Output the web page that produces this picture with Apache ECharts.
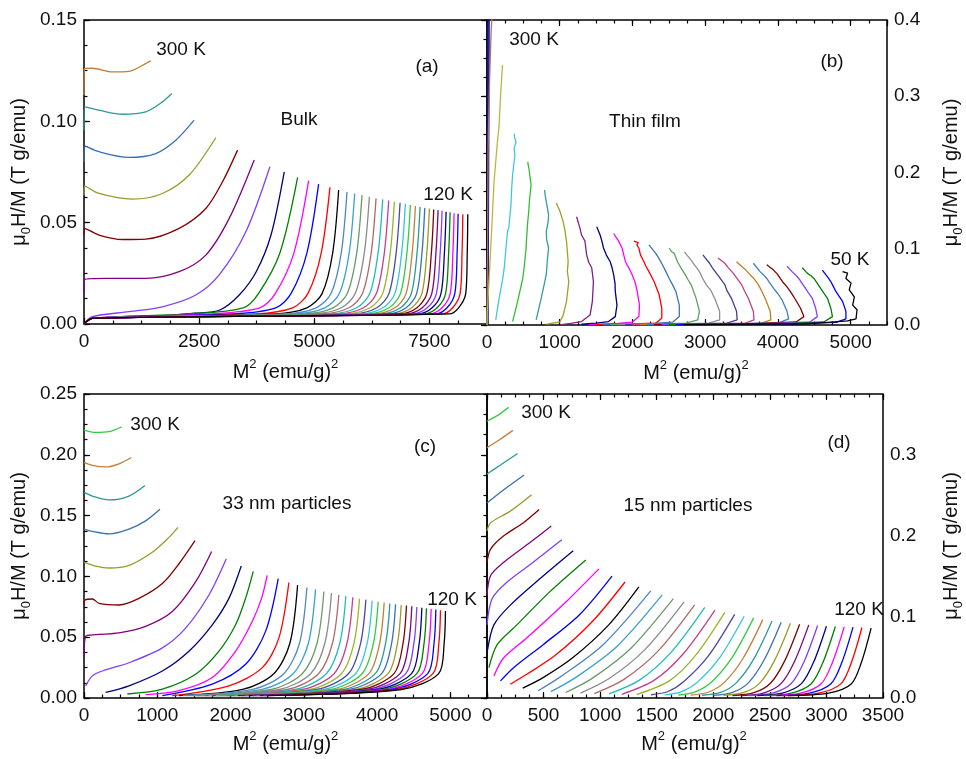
<!DOCTYPE html>
<html>
<head>
<meta charset="utf-8">
<script src="https://cdn.jsdelivr.net/npm/echarts@6/dist/echarts.min.js"></script>
<style>
html, body { margin: 0; padding: 0; background: #fff; }
#chart { width: 966px; height: 759px; }
</style>
</head>
<body>
<div id="chart"></div>
<script>
// Arrott plots, mu0H/M vs M^2. Curves go from the highest
// temperature (300 K, left) to the lowest one (right).

// (a) bulk, 300 K ... 120 K
var bulkCurves = [
    [[0,0.113],[8,0.126],[181,0.1262],[616,0.1244],[978,0.1247],[1341,0.1285],[1449,0.1298]],
    [[0,0.0956],[15,0.1071],[326,0.1055],[833,0.1035],[1341,0.1047],[1703,0.1096],[1906,0.1137]],
    [[0,0.080],[15,0.0879],[326,0.0850],[978,0.0822],[1558,0.0841],[1993,0.0907],[2391,0.1006]],
    [[0,0.0636],[15,0.0682],[326,0.0644],[1050,0.0616],[1703,0.0644],[2283,0.0735],[2862,0.0919]],
    [[0,0.0439],[15,0.0472],[326,0.0439],[833,0.0417],[1341,0.0419],[2065,0.0472],[2645,0.0570],[3008,0.0702],[3334,0.0858]],
    [[0,0.0159],[15,0.0220],[471,0.0225],[1341,0.0225],[2065,0.0258],[2645,0.0340],[3153,0.0521],[3696,0.0809]],
    [[0,0],[181,0.0036],[978,0.0061],[1703,0.0085],[2428,0.0143],[2935,0.0242],[3514,0.0455],[4036,0.0776]],
    [[0,0],[180,0.0028],[1340,0.0036],[2430,0.0053],[2950,0.0069],[3370,0.0143],[3739,0.0258],[4060,0.0439],[4348,0.0751]],
    [[0,0],[180,0.0028],[2278,0.005],[3458,0.008],[3788,0.015],[4253,0.035],[4638,0.0723]],
    [[0,0],[180,0.0028],[2757,0.005],[3817,0.008],[4152,0.015],[4557,0.035],[4877,0.0707]],
    [[0,0],[180,0.0028],[3234,0.005],[4164,0.008],[4494,0.015],[4839,0.035],[5094,0.0690]],
    [[0,0],[180,0.0028],[3720,0.005],[4530,0.008],[4860,0.015],[5150,0.035],[5340,0.0674]],
    [[0,0],[180,0.0028],[4149,0.005],[4839,0.008],[5169,0.015],[5399,0.035],[5529,0.0661]],
    [[0,0],[180,0.0028],[4370,0.005],[5040,0.008],[5363,0.015],[5585,0.035],[5710,0.0652]],
    [[0,0],[180,0.0028],[4579,0.005],[5228,0.008],[5543,0.015],[5757,0.035],[5877,0.0644]],
    [[0,0],[180,0.0028],[4778,0.005],[5407,0.008],[5715,0.015],[5921,0.035],[6036,0.0636]],
    [[0,0],[180,0.0028],[4980,0.005],[5588,0.008],[5888,0.015],[6086,0.035],[6196,0.0628]],
    [[0,0],[180,0.0028],[5165,0.005],[5753,0.008],[6046,0.015],[6235,0.035],[6341,0.0620]],
    [[0,0],[180,0.0028],[5350,0.005],[5918,0.008],[6205,0.015],[6385,0.035],[6486,0.0615]],
    [[0,0],[180,0.0028],[5522,0.005],[6069,0.008],[6348,0.015],[6520,0.035],[6616,0.0610]],
    [[0,0],[180,0.0028],[5685,0.005],[6212,0.008],[6484,0.015],[6648,0.035],[6739,0.0603]],
    [[0,0],[180,0.0028],[5851,0.005],[6357,0.008],[6621,0.015],[6777,0.035],[6863,0.0598]],
    [[0,0],[180,0.0028],[6006,0.005],[6492,0.008],[6749,0.015],[6897,0.035],[6978,0.0593]],
    [[0,0],[180,0.0028],[6155,0.005],[6621,0.008],[6871,0.015],[7011,0.035],[7087,0.0587]],
    [[0,0],[180,0.0028],[6306,0.005],[6751,0.008],[6993,0.015],[7125,0.035],[7196,0.0582]],
    [[0,0],[180,0.0028],[6447,0.005],[6872,0.008],[7107,0.015],[7231,0.035],[7297,0.0578]],
    [[0,0],[180,0.0028],[6591,0.005],[6995,0.008],[7222,0.015],[7338,0.035],[7399,0.0573]],
    [[0,0],[180,0.0028],[6732,0.005],[7116,0.008],[7336,0.015],[7443,0.035],[7500,0.0570]],
    [[0,0],[180,0.0028],[6866,0.005],[7230,0.008],[7444,0.015],[7542,0.035],[7594,0.0565]],
    [[0,0],[180,0.0028],[7002,0.005],[7345,0.008],[7551,0.015],[7641,0.035],[7688,0.0562]],
    [[0,0],[180,0.0028],[7129,0.005],[7452,0.008],[7651,0.015],[7733,0.035],[7775,0.0559]],
    [[0,0],[180,0.0028],[7258,0.005],[7560,0.008],[7751,0.015],[7825,0.035],[7862,0.0554]],
    [[0,0],[180,0.0028],[7385,0.005],[7667,0.008],[7851,0.015],[7917,0.035],[7949,0.0551]],
    [[0,0],[180,0.0028],[7512,0.005],[7774,0.008],[7951,0.015],[8009,0.035],[8036,0.0547]],
    [[0,0],[180,0.0028],[7641,0.005],[7882,0.008],[8051,0.015],[8101,0.035],[8123,0.0544]],
    [[0,0],[180,0.0028],[7783,0.005],[8004,0.008],[8166,0.015],[8208,0.035],[8225,0.0542]],
    [[0,0],[180,0.0028],[7933,0.005],[8133,0.008],[8288,0.015],[8321,0.035],[8333,0.0541]]
];

// (b) thin film, 300 K ... 50 K (noisy, points in measurement order)
var filmCurves = [
    [[5,0],[8,0.1],[12,0.2],[14,0.3],[16,0.42]],
    [[14,0],[18,0.1],[22,0.2],[26,0.3],[30,0.42]],
    [[0,0],[8,0.1],[15,0.23],[35,0.32],[55,0.38],[75,0.42]],
    [[0,0],[5,0.0175],[51,0.10],[97,0.188],[143,0.240],[165,0.26],[190,0.306],[213,0.341]],
    [[120,0.0066],[167,0.035],[215,0.06],[236,0.074],[260,0.10],[282,0.122],[300,0.128],[329,0.157],[340,0.18],[352,0.197],[384,0.223],[372,0.231],[398,0.240],[380,0.246],[375,0.251]],
    [[352,0.0044],[421,0.031],[491,0.061],[510,0.075],[537,0.100],[545,0.115],[560,0.135],[575,0.15],[583,0.162],[606,0.184],[590,0.195],[583,0.201],[560,0.214]],
    [[676,0.0067],[745,0.035],[790,0.055],[815,0.066],[830,0.085],[847,0.101],[820,0.112],[815,0.122],[840,0.135],[847,0.144],[815,0.162],[800,0.170],[792,0.177]],
    [[820,0.001],[1000,0.004],[1045,0.012],[1093,0.031],[1125,0.057],[1105,0.07],[1116,0.083],[1093,0.110],[1070,0.125],[1046,0.136],[1000,0.150],[975,0.155],[954,0.160]],
    [[1000,0],[1150,0.002],[1301,0.0045],[1417,0.013],[1449,0.031],[1463,0.057],[1440,0.075],[1400,0.082],[1370,0.092],[1347,0.110],[1300,0.118],[1278,0.127],[1232,0.142]],
    [[1300,0.001],[1500,0.0025],[1671,0.0045],[1764,0.011],[1787,0.026],[1764,0.044],[1760,0.055],[1741,0.066],[1720,0.075],[1694,0.083],[1640,0.092],[1602,0.101],[1580,0.110],[1555,0.118],[1509,0.129]],
    [[1400,0.0005],[1800,0.002],[1996,0.0037],[2088,0.011],[2097,0.026],[2065,0.044],[2040,0.055],[1996,0.066],[1950,0.075],[1903,0.083],[1880,0.092],[1857,0.101],[1810,0.110],[1741,0.120]],
    [[1500,0.0005],[2000,0.0015],[2320,0.0024],[2403,0.0089],[2403,0.022],[2366,0.040],[2297,0.057],[2227,0.070],[2180,0.078],[2158,0.083],[2110,0.092],[2088,0.101],[2060,0.105],[2080,0.108],[2019,0.110]],
    [[1600,0.0005],[2200,0.0015],[2551,0.0037],[2644,0.011],[2644,0.026],[2597,0.044],[2550,0.053],[2505,0.061],[2460,0.070],[2412,0.079],[2360,0.088],[2320,0.094],[2227,0.105]],
    [[1700,0.0005],[2400,0.0015],[2736,0.0024],[2898,0.0067],[2921,0.018],[2875,0.035],[2806,0.053],[2760,0.060],[2713,0.068],[2660,0.076],[2620,0.083],[2574,0.094],[2540,0.096],[2505,0.101]],
    [[1800,0.0005],[2600,0.0015],[3050,0.0024],[3199,0.0067],[3199,0.018],[3130,0.035],[3080,0.045],[3014,0.053],[2960,0.062],[2921,0.070],[2860,0.078],[2806,0.085],[2713,0.096]],
    [[1900,0.0005],[2800,0.0015],[3300,0.0024],[3440,0.0067],[3431,0.018],[3361,0.035],[3300,0.045],[3269,0.053],[3200,0.062],[3153,0.068],[3100,0.075],[3060,0.081],[2968,0.092]],
    [[2000,0.0005],[3000,0.0015],[3550,0.0024],[3672,0.0067],[3662,0.018],[3593,0.035],[3540,0.045],[3500,0.053],[3430,0.062],[3385,0.068],[3320,0.075],[3269,0.081],[3176,0.088]],
    [[2100,0.0005],[3200,0.0015],[3780,0.0024],[3903,0.0067],[3894,0.018],[3824,0.035],[3780,0.044],[3731,0.053],[3660,0.062],[3616,0.066],[3560,0.072],[3523,0.075],[3431,0.083]],
    [[2200,0.0005],[3400,0.0015],[4020,0.0030],[4148,0.008],[4125,0.018],[4056,0.033],[4000,0.041],[3940,0.048],[3890,0.055],[3847,0.061],[3800,0.066],[3755,0.070],[3662,0.081]],
    [[2300,0.0005],[3600,0.0015],[4250,0.0040],[4357,0.011],[4311,0.022],[4218,0.037],[4170,0.044],[4125,0.050],[4070,0.056],[4033,0.061],[3990,0.067],[3940,0.072],[3847,0.079]],
    [[2400,0.0005],[3800,0.0015],[4440,0.0040],[4542,0.011],[4519,0.022],[4473,0.035],[4420,0.042],[4380,0.048],[4330,0.055],[4287,0.061],[4240,0.066],[4195,0.070],[4125,0.077]],
    [[2500,0.0005],[4000,0.0015],[4630,0.0040],[4750,0.011],[4727,0.022],[4681,0.035],[4630,0.042],[4588,0.048],[4540,0.055],[4496,0.061],[4450,0.065],[4403,0.068],[4334,0.075]],
    [[2600,0.0005],[4200,0.0015],[4800,0.0035],[4935,0.008],[4935,0.018],[4889,0.031],[4840,0.038],[4797,0.044],[4760,0.051],[4727,0.057],[4690,0.062],[4658,0.066],[4611,0.072]],
    [[2700,0.0005],[4400,0.0015],[4958,0.0054],[5074,0.008],[5088,0.020],[5028,0.026],[5051,0.037],[4981,0.046],[5005,0.055],[4935,0.061],[4958,0.068],[4889,0.070]]
];
var filmColors = ['#1a1acc', '#000080', '#b07070', '#b8b83a', '#40c8d8', '#30c030', '#2f9f9f',
    '#a0a028', '#802080', '#000080', '#ff00ff', '#ff0000', '#4070b0', '#60a060', '#909090',
    '#404090', '#c04080', '#c08020', '#3a80c0', '#800000', '#8040ff', '#008000', '#0000ff', '#000000'];

// (c) 33 nm particles, 300 K ... 120 K
var p33Curves = [
    [[0,0.2203],[159,0.2184],[341,0.2190],[514,0.2231]],
    [[0,0.1937],[114,0.1913],[295,0.1900],[477,0.1926],[646,0.1978]],
    [[0,0.1693],[114,0.1661],[341,0.1629],[614,0.1661],[832,0.1747]],
    [[0,0.1389],[114,0.1370],[341,0.1349],[614,0.1389],[841,0.1457],[1037,0.1552]],
    [[0,0.1118],[159,0.1085],[341,0.1069],[614,0.1091],[932,0.1199],[1160,0.1321],[1283,0.1403]],
    [[0,0.0765],[15,0.0806],[114,0.0814],[205,0.0779],[477,0.0765],[750,0.0819],[1069,0.0941],[1296,0.1104],[1515,0.1294]],
    [[0,0.0331],[23,0.0508],[159,0.0521],[477,0.0535],[841,0.0589],[1205,0.0711],[1523,0.0955],[1742,0.1205]],
    [[23,0.0100],[114,0.0182],[250,0.0222],[614,0.0290],[1069,0.0412],[1387,0.0575],[1705,0.0847],[1942,0.1145]],
    [[295,0.0046],[614,0.0100],[1069,0.0222],[1432,0.0385],[1751,0.0602],[1978,0.0819],[2146,0.1085]],
    [[591,0.0033],[1069,0.0073],[1523,0.0195],[1842,0.0385],[2069,0.0602],[2205,0.0819],[2310,0.1042]],
    [[841,0.0027],[1296,0.0060],[1751,0.0168],[2069,0.0385],[2296,0.0629],[2423,0.0819],[2500,0.1009]],
    [[1069,0.0019],[1751,0.0114],[2205,0.0277],[2478,0.0548],[2651,0.0982]],
    [[1205,0.0019],[1978,0.0100],[2433,0.0250],[2660,0.0494],[2796,0.0950]],
    [[1300,0.002],[2165,0.007],[2590,0.02],[2810,0.045],[2915,0.0928]],
    [[1350,0.002],[2302,0.007],[2727,0.02],[2941,0.045],[3042,0.0909]],
    [[1400,0.002],[2430,0.007],[2854,0.02],[3062,0.045],[3160,0.0893]],
    [[1450,0.002],[2554,0.007],[2978,0.02],[3180,0.045],[3274,0.0876]],
    [[1500,0.002],[2666,0.007],[3092,0.02],[3287,0.045],[3378,0.0863]],
    [[1550,0.002],[2774,0.007],[3201,0.02],[3391,0.045],[3478,0.0849]],
    [[1600,0.002],[2878,0.007],[3307,0.02],[3491,0.045],[3574,0.0838]],
    [[1650,0.002],[2981,0.007],[3412,0.02],[3589,0.045],[3669,0.0828]],
    [[1700,0.002],[3080,0.007],[3512,0.02],[3684,0.045],[3760,0.0817]],
    [[1750,0.002],[3175,0.007],[3609,0.02],[3775,0.045],[3847,0.0809]],
    [[1800,0.002],[3268,0.007],[3705,0.02],[3864,0.045],[3933,0.0800]],
    [[1850,0.002],[3357,0.007],[3796,0.02],[3950,0.045],[4015,0.0792]],
    [[1900,0.002],[3446,0.007],[3888,0.02],[4035,0.045],[4097,0.0784]],
    [[1950,0.002],[3530,0.007],[3975,0.02],[4116,0.045],[4174,0.0776]],
    [[2000,0.002],[3615,0.007],[4062,0.02],[4198,0.045],[4252,0.0771]],
    [[2050,0.002],[3699,0.007],[4149,0.02],[4278,0.045],[4329,0.0765]],
    [[2100,0.002],[3777,0.007],[4231,0.02],[4354,0.045],[4401,0.0760]],
    [[2150,0.002],[3856,0.007],[4313,0.02],[4431,0.045],[4474,0.0754]],
    [[2200,0.002],[3930,0.007],[4391,0.02],[4502,0.045],[4542,0.0749]],
    [[2250,0.002],[4005,0.007],[4470,0.02],[4575,0.045],[4611,0.0743]],
    [[2300,0.002],[4074,0.007],[4542,0.02],[4641,0.045],[4674,0.0738]],
    [[2350,0.002],[4138,0.007],[4616,0.02],[4709,0.045],[4738,0.0733]],
    [[2400,0.002],[4202,0.007],[4690,0.02],[4777,0.045],[4802,0.0727]],
    [[2450,0.002],[4265,0.007],[4762,0.02],[4843,0.045],[4865,0.0722]],
    [[2500,0.002],[4333,0.007],[4840,0.02],[4915,0.045],[4933,0.0716]]
];

// (d) 15 nm particles, 300 K ... 120 K
var p15Curves = [
    [[0,0.3414],[90,0.3483],[191,0.3585]],
    [[0,0.3089],[104,0.3179],[229,0.3301]],
    [[0,0.2764],[119,0.2874],[270,0.3016]],
    [[0,0.2406],[148,0.2569],[328,0.2752]],
    [[0,0.2061],[32,0.2162],[206,0.2305],[394,0.2508]],
    [[0,0.1675],[32,0.1837],[148,0.2000],[322,0.2162],[461,0.2325]],
    [[0,0.1268],[32,0.1512],[148,0.1675],[380,0.1918],[568,0.2121]],
    [[0,0.0902],[46,0.1227],[177,0.1430],[409,0.1675],[661,0.1951]],
    [[3,0.0577],[61,0.0902],[206,0.1146],[467,0.1471],[762,0.1817]],
    [[17,0.0374],[90,0.0658],[264,0.0902],[554,0.1309],[873,0.1703]],
    [[61,0.0272],[148,0.0496],[351,0.0740],[699,0.1187],[989,0.1593]],
    [[119,0.0211],[235,0.0374],[496,0.0658],[815,0.1024],[1105,0.1504]],
    [[206,0.0170],[351,0.0292],[612,0.0536],[931,0.0943],[1220,0.1431]],
    [[316,0.0122],[496,0.0252],[757,0.0496],[1076,0.0902],[1342,0.1370]],
    [[452,0.0090],[651,0.0264],[1029,0.0661],[1447,0.1321]],
    [[565,0.0078],[785,0.0254],[1148,0.0636],[1548,0.1272]],
    [[696,0.0068],[933,0.0245],[1272,0.0614],[1647,0.1227]],
    [[826,0.0060],[1076,0.0237],[1393,0.0594],[1742,0.1187]],
    [[948,0.0054],[1211,0.0230],[1509,0.0575],[1835,0.1150]],
    [[1078,0.0050],[1351,0.0224],[1624,0.0559],[1925,0.1118]],
    [[1191,0.0046],[1476,0.0217],[1733,0.0543],[2015,0.1085]],
    [[1322,0.0043],[1611,0.0211],[1845,0.0529],[2102,0.1057]],
    [[1450,0.0040],[1600,0.0080],[1742,0.0206],[1955,0.0516],[2189,0.1032]],
    [[1570,0.0038],[1720,0.0078],[1865,0.0202],[2060,0.0504],[2273,0.1008]],
    [[1690,0.0036],[1840,0.0076],[1985,0.0198],[2164,0.0494],[2357,0.0988]],
    [[1800,0.0035],[1960,0.0074],[2098,0.0193],[2261,0.0484],[2438,0.0967]],
    [[1900,0.0034],[2070,0.0072],[2205,0.0190],[2356,0.0476],[2519,0.0951]],
    [[2000,0.0033],[2170,0.0070],[2310,0.0187],[2449,0.0468],[2600,0.0935]],
    [[2090,0.0032],[2270,0.0068],[2410,0.0184],[2541,0.0461],[2682,0.0922]],
    [[2170,0.0030],[2360,0.0066],[2505,0.0182],[2630,0.0455],[2763,0.0910]],
    [[2250,0.0030],[2450,0.0064],[2600,0.0180],[2718,0.0451],[2844,0.0902]],
    [[2320,0.0030],[2530,0.0062],[2689,0.0179],[2802,0.0447],[2922,0.0894]],
    [[2390,0.0030],[2610,0.0060],[2779,0.0177],[2887,0.0443],[3000,0.0886]],
    [[2450,0.0030],[2690,0.0060],[2866,0.0176],[2970,0.0441],[3079,0.0882]],
    [[2510,0.0030],[2770,0.0060],[2954,0.0176],[3053,0.0439],[3157,0.0878]],
    [[2560,0.0030],[2850,0.0060],[3040,0.0175],[3136,0.0437],[3235,0.0874]],
    [[2610,0.0030],[2930,0.0060],[3127,0.0174],[3220,0.0435],[3314,0.0870]],
    [[2660,0.0030],[3020,0.0060],[3219,0.0172],[3307,0.0431],[3395,0.0862]]
];

// colour cycle, counted from the lowest temperature curve
var palette = ['#000000', '#ff0000', '#0000ff', '#ff00ff', '#008000', '#000080', '#7f3fff', '#800080',
    '#800000', '#9a9a2a', '#3a6fb0', '#2a9a9a', '#c0803a', '#33cc40', '#33c6d6', '#4a4aa0',
    '#9ab52a', '#c4408a', '#22bcbc', '#b06a6a', '#8a8a8a', '#6a9a6a', '#3aa0d0', '#4f86c4'];

var FONT = '"Liberation Sans", Arial, sans-serif';
var INK = '#111';

var panels = [
    { grid: { left: 84, top: 20, width: 403, height: 304 }, xMax: 8750, xStep: 2500, xMinor: 625,
      yMax: 0.15, yStep: 0.05, yMinor: 0.0125, yPos: 'left', digits: 2, top: false, xGap: 34, yGap: 51 },
    { grid: { left: 487, top: 20, width: 400, height: 305 }, xMax: 5500, xStep: 1000, xMinor: 250,
      yMax: 0.4, yStep: 0.1, yMinor: 0.025, yPos: 'right', digits: 1, top: true, xGap: 34, yGap: 50 },
    { grid: { left: 84, top: 394, width: 403, height: 307 }, xMax: 5500, xStep: 1000, xMinor: 250,
      yMax: 0.25, yStep: 0.05, yMinor: 0.0125, yPos: 'left', digits: 2, top: false, xGap: 32, yGap: 51 },
    { grid: { left: 487, top: 394, width: 400, height: 307 }, xMax: 3500, xStep: 500, xMinor: 125,
      yMax: 0.375, yStep: 0.1, yMinor: 0.025, yPos: 'right', digits: 1, top: true, xGap: 32, yGap: 54 }
];

var nameStyle = {
    fontSize: 20, fontFamily: FONT, color: INK, lineHeight: 28,
    rich: {
        sup: { fontSize: 13, fontFamily: FONT, color: INK, lineHeight: 13, verticalAlign: 'top' },
        sub: { fontSize: 13, fontFamily: FONT, color: INK, lineHeight: 13, verticalAlign: 'bottom' }
    }
};

var xAxes = [], yAxes = [], series = [];

function tickAxis(gi, pos, max, step, len, extra) {
    var ax = {
        type: 'value', gridIndex: gi, position: pos, min: 0, max: max, interval: step,
        axisLine: { show: false }, splitLine: { show: false },
        axisTick: { show: true, inside: true, length: len, lineStyle: { color: '#000', width: 1.2 } },
        axisLabel: { show: false }
    };
    for (var k in extra) ax[k] = extra[k];
    return ax;
}

panels.forEach(function(p, gi) {
    p.xi = xAxes.length;
    xAxes.push(tickAxis(gi, 'bottom', p.xMax, p.xStep, 6, {
        axisLabel: { show: true, margin: 8, fontSize: 19, fontFamily: FONT, color: INK,
            showMaxLabel: p.xMax % p.xStep === 0,
            formatter: function(v) { return String(v); } },
        name: 'M{sup|2} (emu/g){sup|2}', nameLocation: 'middle', nameGap: p.xGap,
        nameTextStyle: Object.assign({}, nameStyle, { padding: p.yPos === 'right' ? [0, 0, 0, 18] : 0 })
    }));
    xAxes.push(tickAxis(gi, 'bottom', p.xMax, p.xMinor, 3.5, {}));
    if (p.top) {
        xAxes.push(tickAxis(gi, 'top', p.xMax, p.xStep, 6, {}));
        xAxes.push(tickAxis(gi, 'top', p.xMax, p.xMinor, 3.5, {}));
    }
    p.yi = yAxes.length;
    yAxes.push(tickAxis(gi, p.yPos, p.yMax, p.yStep, 6, {
        axisLabel: { show: true, margin: 7, fontSize: 19, fontFamily: FONT, color: INK,
            showMaxLabel: Math.abs(p.yMax / p.yStep - Math.round(p.yMax / p.yStep)) < 1e-6,
            formatter: function(v) { return v.toFixed(p.digits); } },
        name: 'μ{sub|0}H/M (T g/emu)', nameLocation: 'middle', nameGap: p.yGap, nameRotate: 90,
        nameTextStyle: nameStyle
    }));
    yAxes.push(tickAxis(gi, p.yPos, p.yMax, p.yMinor, 3.5, {}));
});

function addCurves(list, colorOf, p, smooth) {
    list.forEach(function(pts, j) {
        series.push({
            type: 'line', xAxisIndex: p.xi, yAxisIndex: p.yi, data: pts,
            showSymbol: false, symbol: 'none', silent: true, clip: true,
            smooth: smooth,
            lineStyle: { width: 1.3, color: colorOf(j) }
        });
    });
}

addCurves(bulkCurves, function(j) { return palette[(bulkCurves.length - 1 - j) % 24]; }, panels[0], 0.3);
addCurves(filmCurves, function(j) { return filmColors[j]; }, panels[1], false);
addCurves(p33Curves, function(j) { return palette[(p33Curves.length - 1 - j) % 24]; }, panels[2], 0.3);
addCurves(p15Curves, function(j) { return palette[(p15Curves.length - 1 - j) % 24]; }, panels[3], 0.3);

var notes = [
    ['300 K', 181, 50], ['(a)', 427, 67], ['Bulk', 299, 120], ['120 K', 448, 195],
    ['300 K', 534, 40], ['(b)', 832, 62], ['Thin film', 645, 122], ['50 K', 850, 260],
    ['300 K', 155, 425], ['(c)', 425, 447], ['33 nm particles', 287, 504], ['120 K', 452, 600],
    ['300 K', 546, 413], ['(d)', 839, 443], ['15 nm particles', 688, 506], ['120 K', 859, 610]
];

var chart = echarts.init(document.getElementById('chart'), null, { renderer: 'canvas' });
chart.setOption({
    animation: false,
    backgroundColor: '#fff',
    grid: panels.map(function(p) {
        return { left: p.grid.left, top: p.grid.top, width: p.grid.width, height: p.grid.height,
            show: true, borderColor: '#000', borderWidth: 1.5, backgroundColor: 'transparent' };
    }),
    xAxis: xAxes,
    yAxis: yAxes,
    series: series,
    graphic: notes.map(function(n) {
        return {
            type: 'text', x: n[1], y: n[2], silent: true, z: 100,
            style: { text: n[0], fill: INK, font: '19px ' + FONT,
                align: 'center', verticalAlign: 'middle', textAlign: 'center', textVerticalAlign: 'middle' }
        };
    })
});
</script>
</body>
</html>
